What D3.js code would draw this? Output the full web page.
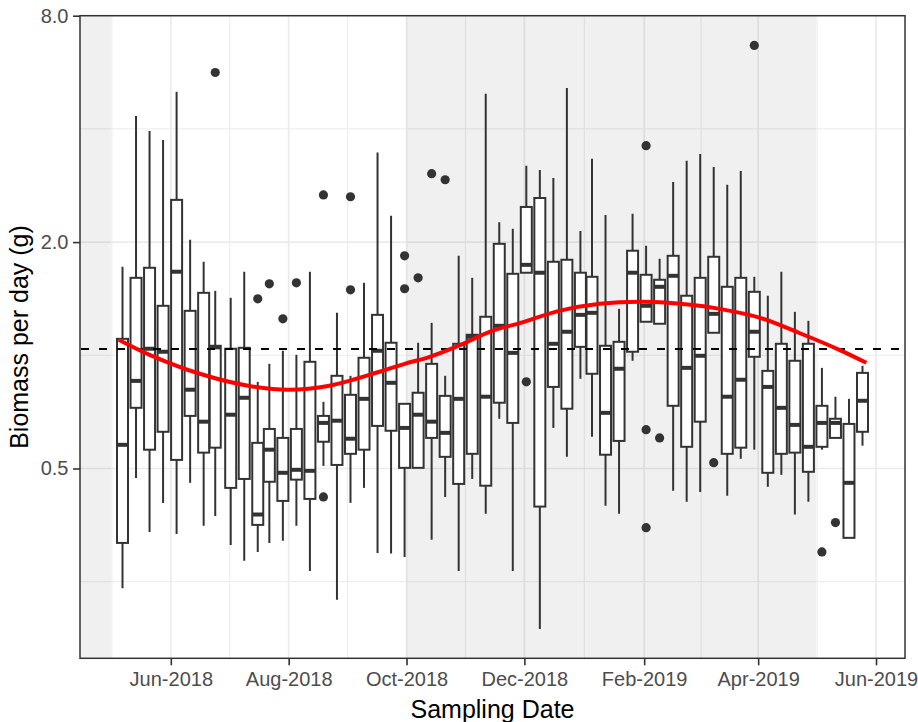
<!DOCTYPE html>
<html>
<head>
<meta charset="utf-8">
<script src="https://cdnjs.cloudflare.com/ajax/libs/d3/7.8.5/d3.min.js"></script>
<style>
body { margin: 0; background: #fff; }
text { font-family: "Liberation Sans", Arial, sans-serif; }
</style>
</head>
<body>
<div id="container"></div>
<script>
// one box per sampling date
let dates = ["2018-05-07","2018-05-14","2018-05-21","2018-05-28","2018-06-04","2018-06-11","2018-06-18","2018-06-24","2018-07-02","2018-07-09",
    "2018-07-16","2018-07-22","2018-07-29","2018-08-05","2018-08-12","2018-08-19","2018-08-26","2018-09-02","2018-09-09","2018-09-16",
    "2018-09-23","2018-09-30","2018-10-07","2018-10-14","2018-10-21","2018-10-28","2018-11-04","2018-11-11","2018-11-18","2018-11-25",
    "2018-12-02","2018-12-09","2018-12-16","2018-12-23","2018-12-30","2019-01-05","2019-01-12","2019-01-19","2019-01-26","2019-02-02",
    "2019-02-09","2019-02-16","2019-02-23","2019-03-02","2019-03-09","2019-03-16","2019-03-23","2019-03-30","2019-04-06","2019-04-13",
    "2019-04-20","2019-04-27","2019-05-04","2019-05-11","2019-05-18","2019-05-25"];
let whiskerHigh = [1.719,4.33,3.95,3.74,5.02,2.03,1.773,1.484,1.422,1.668,
    0.850,0.949,1.028,1.003,1.668,0.752,1.297,0.882,1.559,3.46,
    2.35,0.743,1.080,1.220,0.882,1.839,1.607,4.96,2.26,2.17,
    3.19,3.11,2.96,5.14,2.14,3.33,2.36,1.329,2.38,1.955,
    1.806,2.89,3.29,3.43,3.17,2.84,3.09,1.617,1.440,1.668,
    1.305,1.235,0.926,0.776,0.766,0.938];
let q3 = [1.106,1.607,1.709,1.354,2.59,1.313,1.466,1.06,1.041,1.047,
    0.585,0.637,0.603,0.637,0.961,0.690,0.882,0.785,0.985,1.281,
    1.080,0.743,0.795,0.949,0.780,1.073,1.134,1.266,1.979,1.647,
    2.48,2.62,1.773,1.795,1.658,1.617,1.06,1.086,1.897,1.637,
    1.588,1.839,1.440,1.607,1.828,1.521,1.607,1.475,0.909,1.073,
    0.967,1.073,0.734,0.678,0.657,0.898];
let median = [0.578,0.855,1.041,1.022,1.668,0.810,0.666,1.05,0.695,0.771,
    0.377,0.561,0.487,0.496,0.493,0.661,0.670,0.600,0.766,1.028,
    0.845,0.641,0.695,0.666,0.622,0.766,1.12,0.776,1.198,1.015,
    1.740,1.658,1.073,1.155,1.281,1.297,0.703,0.921,1.658,1.354,
    1.521,1.627,0.926,0.997,1.289,0.776,0.861,1.155,0.824,0.725,
    0.653,0.571,0.661,0.661,0.458,0.757];
let q1 = [0.317,0.725,0.561,0.626,0.527,0.690,0.551,0.568,0.444,0.469,
    0.354,0.461,0.410,0.467,0.415,0.589,0.511,0.547,0.561,0.649,
    0.630,0.502,0.502,0.603,0.537,0.455,0.547,0.450,0.748,0.661,
    1.658,0.396,0.824,0.721,1.053,0.893,0.544,0.592,1.022,1.228,
    1.213,0.734,0.571,0.666,1.148,0.547,0.568,0.991,0.487,0.547,
    0.551,0.490,0.571,0.603,0.327,0.626];
let whiskerLow = [0.240,0.472,0.339,0.405,0.335,0.458,0.352,0.374,0.313,0.284,
    0.300,0.317,0.321,0.352,0.267,0.508,0.224,0.405,0.444,0.298,
    0.297,0.291,0.502,0.323,0.420,0.267,0.469,0.379,0.678,0.267,
    1.658,0.187,0.641,0.537,0.866,0.607,0.398,0.379,0.967,1.228,
    1.213,0.436,0.408,0.433,1.148,0.423,0.531,0.561,0.447,0.481,
    0.377,0.408,0.561,0.603,0.327,0.575];

let outlierDates = ["2018-06-24","2018-07-16","2018-07-22","2018-07-29","2018-08-05","2018-08-19","2018-08-19","2018-09-02","2018-09-02",
    "2018-09-30","2018-09-30","2018-10-07","2018-10-14","2018-10-21","2018-12-02","2019-02-02","2019-02-02","2019-02-02",
    "2019-02-09","2019-03-09","2019-03-30","2019-05-04","2019-05-11"];
let outlierValues = [5.65,1.413,1.549,1.25,1.559,2.67,0.420,2.64,1.493,
    1.839,1.503,1.607,3.04,2.93,0.850,3.61,0.634,0.348,
    0.603,0.518,6.67,0.300,0.359];

// smoothed trend (red)
let smoothDates = ["2018-05-05","2018-05-21","2018-06-16","2018-07-11","2018-08-01","2018-08-22","2018-09-17","2018-09-30","2018-10-13",
    "2018-10-29","2018-11-13","2018-11-29","2018-12-19","2019-01-09","2019-02-01","2019-02-25","2019-03-12","2019-04-02",
    "2019-04-22","2019-05-13","2019-05-27"];
let smoothValues = [1.100,1.003,0.893,0.830,0.810,0.830,0.904,0.949,0.991,
    1.066,1.155,1.220,1.313,1.371,1.388,1.362,1.329,1.258,
    1.148,1.034,0.955];

let refValue = 1.04;
let shadeFrom = ["2018-04-01","2018-10-01"];
let shadeTo = ["2018-05-01","2019-05-01"];

let xTicks = ["2018-06-01","2018-08-01","2018-10-01","2018-12-01","2019-02-01","2019-04-01","2019-06-01"];
let yTicks = [0.5, 2, 8];
let yMinor = [0.25, 1, 4];

let w = 918;
let h = 722;
let pLeft = 80, pRight = 905, pTop = 15.7, pBottom = 658.3;

let parse = d3.timeParse("%Y-%m-%d");

let x = d3.scaleTime().domain([parse("2018-04-15"), parse("2019-06-16")]).range([pLeft, pRight]);
let y = d3.scaleLog().base(2).domain([0.1564, 8]).range([pBottom, pTop]);

let svg = d3.select("div#container").append("svg")
    .attr("width", w).attr("height", h)
    .style("background-color", "#fff");

svg.append("clipPath").attr("id", "panel")
    .append("rect").attr("x", pLeft).attr("y", pTop)
    .attr("width", pRight - pLeft).attr("height", pBottom - pTop);

let panel = svg.append("g").attr("clip-path", "url(#panel)");

// gridlines
let xt = xTicks.map(parse);
let xm = [d3.timeMonth.offset(xt[0], -2)].concat(xt, [d3.timeMonth.offset(xt[xt.length - 1], 2)]);
let xMinor = d3.pairs(xm).map(p => new Date((p[0].getTime() + p[1].getTime()) / 2));

panel.selectAll(".vminor").data(xMinor).enter().append("line")
    .attr("x1", d => x(d)).attr("x2", d => x(d)).attr("y1", pTop).attr("y2", pBottom)
    .attr("stroke", "#ebebeb").attr("stroke-width", 1);
panel.selectAll(".hminor").data(yMinor).enter().append("line")
    .attr("x1", pLeft).attr("x2", pRight).attr("y1", d => y(d)).attr("y2", d => y(d))
    .attr("stroke", "#ebebeb").attr("stroke-width", 1);
panel.selectAll(".vmajor").data(xt).enter().append("line")
    .attr("x1", d => x(d)).attr("x2", d => x(d)).attr("y1", pTop).attr("y2", pBottom)
    .attr("stroke", "#ebebeb").attr("stroke-width", 1.7);
panel.selectAll(".hmajor").data(yTicks).enter().append("line")
    .attr("x1", pLeft).attr("x2", pRight).attr("y1", d => y(d)).attr("y2", d => y(d))
    .attr("stroke", "#ebebeb").attr("stroke-width", 1.7);

// shaded periods
panel.selectAll(".shade").data(shadeFrom).enter().append("rect")
    .attr("x", d => x(parse(d)))
    .attr("width", (d, i) => x(parse(shadeTo[i])) - x(parse(d)))
    .attr("y", pTop).attr("height", pBottom - pTop)
    .attr("fill", "#000").attr("opacity", 0.058);

// boxplots
let boxW = 11;
let boxes = panel.selectAll(".box").data(dates).enter().append("g")
    .attr("transform", d => "translate(" + x(parse(d)) + ",0)");
boxes.append("line")
    .attr("y1", (d, i) => y(whiskerLow[i])).attr("y2", (d, i) => y(whiskerHigh[i]))
    .attr("stroke", "#333").attr("stroke-width", 2);
boxes.append("rect")
    .attr("x", -boxW / 2).attr("width", boxW)
    .attr("y", (d, i) => y(q3[i]))
    .attr("height", (d, i) => y(q1[i]) - y(q3[i]))
    .attr("fill", "#fff").attr("stroke", "#333").attr("stroke-width", 2);
boxes.append("line")
    .attr("x1", -boxW / 2).attr("x2", boxW / 2)
    .attr("y1", (d, i) => y(median[i])).attr("y2", (d, i) => y(median[i]))
    .attr("stroke", "#333").attr("stroke-width", 4);

panel.selectAll(".outlier").data(outlierDates).enter().append("circle")
    .attr("cx", d => x(parse(d)))
    .attr("cy", (d, i) => y(outlierValues[i]))
    .attr("r", 4.6).attr("fill", "#333");

// reference line
panel.append("line")
    .attr("x1", pLeft + 1).attr("x2", pRight).attr("y1", y(refValue)).attr("y2", y(refValue))
    .attr("stroke", "#000").attr("stroke-width", 2).attr("stroke-dasharray", "8,10");

// trend
let line = d3.line().curve(d3.curveCatmullRom)
    .x(d => x(parse(d)))
    .y((d, i) => y(smoothValues[i]));
panel.append("path").datum(smoothDates)
    .attr("d", line)
    .attr("fill", "none").attr("stroke", "#ff0000").attr("stroke-width", 4);

// border
svg.append("rect").attr("x", pLeft).attr("y", pTop)
    .attr("width", pRight - pLeft).attr("height", pBottom - pTop)
    .attr("fill", "none").attr("stroke", "#333").attr("stroke-width", 1.5);

// axes
let xAxis = svg.append("g").attr("transform", "translate(0," + pBottom + ")")
    .call(d3.axisBottom(x).tickValues(xt).tickFormat(d3.timeFormat("%b-%Y")).tickSize(7).tickPadding(7));
let yAxis = svg.append("g").attr("transform", "translate(" + pLeft + ",0)")
    .call(d3.axisLeft(y).tickValues(yTicks).tickFormat(d3.format(".1f")).tickSize(7).tickPadding(4.5));
[xAxis, yAxis].forEach(a => {
    a.select(".domain").remove();
    a.selectAll(".tick line").attr("stroke", "#333").attr("stroke-width", 1.6);
    a.selectAll(".tick text").attr("fill", "#4d4d4d").style("font-size", "20px")
        .style("font-family", "'Liberation Sans', Arial, sans-serif");
});

svg.append("text")
    .attr("x", (pLeft + pRight) / 2).attr("y", 717.5)
    .attr("text-anchor", "middle").style("font-size", "25px").attr("fill", "#000")
    .text("Sampling Date");
svg.append("text")
    .attr("transform", "translate(28," + ((pTop + pBottom) / 2) + ") rotate(-90)")
    .attr("text-anchor", "middle").style("font-size", "25px").attr("fill", "#000")
    .text("Biomass per day (g)");
</script>
</body>
</html>
